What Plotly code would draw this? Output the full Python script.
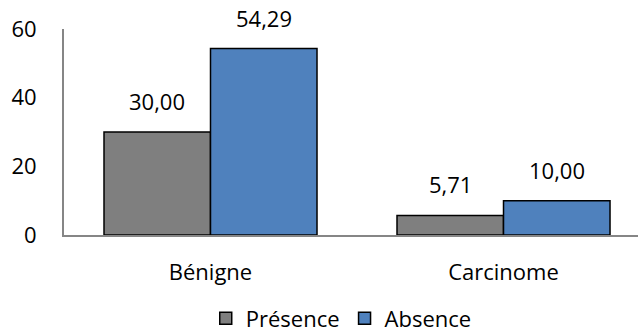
import plotly.graph_objects as go

# Data
categories = ["Bénigne", "Carcinome"]
presence = [30.00, 5.71]
absence = [54.29, 10.00]
series_names = ["Présence", "Absence"]
series_colors = ["#7F7F7F", "#4F81BD"]
y_ticks = [0, 20, 40, 60]

FONT = "Open Sans"
FS = 22

fig = go.Figure()
for name, vals, col in zip(series_names, [presence, absence], series_colors):
    fig.add_trace(go.Bar(
        name=name, x=categories, y=vals,
        marker=dict(color=col, line=dict(color="#000000", width=1.5)),
    ))

# Value labels above each bar (offset horizontally to the bar centres)
bar_px = 106.5
for i, vals in enumerate([presence, absence]):
    shift = -bar_px / 2 if i == 0 else bar_px / 2
    for c, v in zip(categories, vals):
        fig.add_annotation(
            x=c, y=v, xref="x", yref="y", text=f"{v:.2f}".replace(".", ","),
            showarrow=False, yanchor="bottom", xanchor="center",
            xshift=shift, yshift=14,
            font=dict(family=FONT, size=FS, color="#000000"),
        )

fig.update_layout(
    width=638, height=336,
    margin=dict(l=64, r=0, t=29, b=101, pad=0, autoexpand=False),
    paper_bgcolor="white", plot_bgcolor="white",
    barmode="group", bargap=0.273, bargroupgap=0,
    font=dict(family=FONT, size=FS, color="#000000"),
    showlegend=True,
    legend=dict(orientation="h", x=0.483, xanchor="center", y=-0.405, yanchor="middle",
                font=dict(family=FONT, size=FS, color="#000000"),
                itemwidth=30, tracegroupgap=0),
)
fig.update_xaxes(
    range=[-0.5, 1.459], showline=True, linecolor="#868686", linewidth=2,
    showgrid=False, ticks="", ticklabelstandoff=17,
    tickfont=dict(family=FONT, size=FS, color="#000000"),
)
fig.update_yaxes(
    range=[0, 60], tickvals=y_ticks, showline=True, linecolor="#868686", linewidth=2,
    showgrid=False, zeroline=False, ticks="", ticklabelstandoff=21,
    tickfont=dict(family=FONT, size=FS, color="#000000"),
)

fig.write_html("out.html")
